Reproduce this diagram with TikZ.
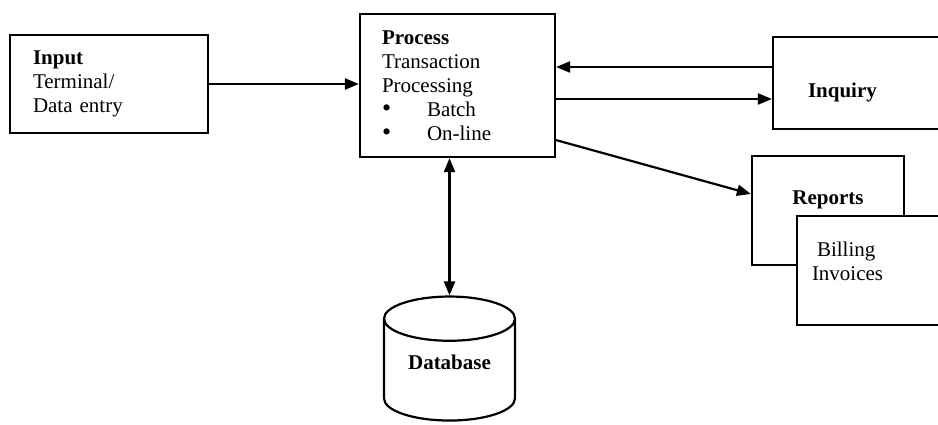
\documentclass[tikz,border=0pt]{standalone}
\usepackage{fontspec}
\setmainfont{Liberation Serif}
\usetikzlibrary{arrows.meta,shapes.geometric}
\newcommand{\bigbullet}{\makebox[22.5pt][l]{\fontsize{13}{12}\selectfont\textbullet}}
\begin{document}
\begin{tikzpicture}[x=0.5pt,y=-0.5pt,line width=1.1pt,>={Triangle[length=7pt,width=5.5pt]}]
	\tikzset{every node/.style={font=\fontsize{10.5}{12}\selectfont},
		box/.style={draw,rectangle,align=left,inner ysep=2pt}}
	\useasboundingbox (0,0) rectangle (938,424);
	\node[box,text width=76pt,inner xsep=11.5pt,minimum height=49pt] (input) at (109,84) {\textbf{Input}\\Terminal/\\Data entry};
	\node[box,text width=75.5pt,inner xsep=11pt,minimum height=71.5pt] (process) at (457.5,85.5)
		{\textbf{Process}\\Transaction\\Processing\\\bigbullet Batch\\\bigbullet On-line};
	\node[box,text width=61pt,inner xsep=17.5pt,minimum height=46pt,text height=14.8pt,text depth=0pt] (inquiry) at (869,83) {\textbf{Inquiry}};
	\node[box,align=center,minimum width=76pt,minimum height=54.5pt,text height=7pt,text depth=12.7pt] (reports) at (828,210.5) {\textbf{Reports}};
	\node[box,fill=white,text width=69pt,inner xsep=7.5pt,minimum height=54.5pt,text height=7.5pt,text depth=21.5pt] (billing) at (881,270.5) {\hspace*{2.5pt}Billing\\Invoices};
	\node[draw,cylinder,shape border rotate=90,aspect=0.46,minimum width=65.5pt,minimum height=62pt,text height=7pt,text depth=13pt] (db) at (449.5,375) {\textbf{Database}};
	% connectors
	\draw[->] (input.east) -- (input.east -| process.west);
	\draw[->] ([yshift=8pt]inquiry.west) -- ([yshift=8pt]inquiry.west -| process.east);
	\draw[->] ([yshift=-8pt]inquiry.west -| process.east) -- ([yshift=-8pt]inquiry.west);
	\draw[->] ([yshift=9pt]process.south east) -- ([yshift=8.25pt]reports.west);
	\draw[<->] (db.north |- process.south) -- (db.north);
\end{tikzpicture}
\end{document}
